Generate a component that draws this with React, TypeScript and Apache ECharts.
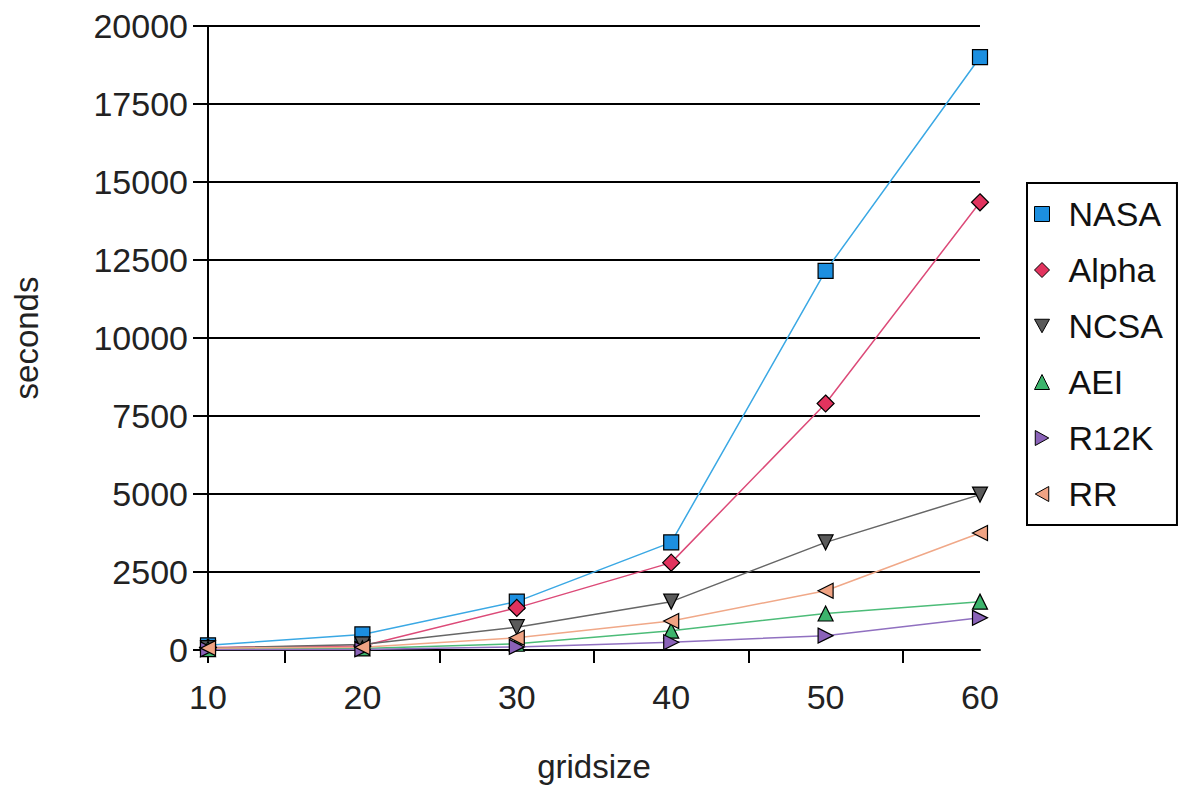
import React, { useEffect, useRef } from "react";
import * as echarts from "echarts";

// Grid sizes on the x axis
const gridsizes = [10, 20, 30, 40, 50, 60];

// Run time in seconds per machine
const nasa = [150, 500, 1550, 3450, 12150, 19000];
const alpha = [80, 130, 1350, 2800, 7900, 14350];
const ncsa = [60, 180, 730, 1550, 3450, 4980];
const aei = [30, 50, 200, 620, 1170, 1550];
const r12k = [20, 20, 100, 250, 460, 1030];
const rr = [60, 90, 390, 930, 1900, 3750];

const yTicks = { min: 0, max: 20000, step: 2500 };

const FONT = "'Liberation Sans', Arial, sans-serif";

const SYM_DOWN = "path://M0,0 L10,0 L5,9 Z";
const SYM_RIGHT = "path://M0,0 L9,5 L0,10 Z";
const SYM_LEFT = "path://M9,0 L0,5 L9,10 Z";

const machines = [
  { name: "NASA", values: nasa, fill: "#1c8fe0", line: "#3aa8e4", symbol: "rect", size: 15 },
  { name: "Alpha", values: alpha, fill: "#e2335e", line: "#dc4a78", symbol: "diamond", size: 17 },
  { name: "NCSA", values: ncsa, fill: "#5a5a5a", line: "#666666", symbol: SYM_DOWN, size: 15 },
  { name: "AEI", values: aei, fill: "#3cb46c", line: "#4cbc78", symbol: "triangle", size: 15 },
  { name: "R12K", values: r12k, fill: "#8a62b8", line: "#9070c0", symbol: SYM_RIGHT, size: 15 },
  { name: "RR", values: rr, fill: "#f0a383", line: "#f0a888", symbol: SYM_LEFT, size: 15 },
];

export default function App() {
  const ref = useRef<HTMLDivElement>(null);

  useEffect(() => {
    if (!ref.current) return;
    const chart = echarts.init(ref.current, null, { renderer: "svg" });

    const series = machines.map((m) => ({
      name: m.name,
      type: "line",
      data: gridsizes.map((g, i) => [g, m.values[i]]),
      symbol: m.symbol,
      symbolSize: m.size,
      showSymbol: true,
      lineStyle: { color: m.line, width: 1.5 },
      itemStyle: { color: m.fill, borderColor: "#000", borderWidth: 1.2 },
      emphasis: { disabled: true },
    }));

    chart.setOption({
      animation: false,
      backgroundColor: "#ffffff",
      textStyle: { fontFamily: FONT },
      grid: { left: 208, right: 201, top: 26, bottom: 137, containLabel: false },
      legend: {
        orient: "vertical",
        left: 1027,
        top: 183,
        padding: [14, 14, 14, 7],
        itemGap: 22,
        itemWidth: 15,
        itemHeight: 15,
        borderColor: "#000",
        borderWidth: 2,
        textStyle: { fontFamily: FONT, fontSize: 34, color: "#111", padding: [0, 0, 0, 14] },
        data: machines.map((m) => ({ name: m.name, icon: m.symbol })),
        itemStyle: { borderColor: "#000", borderWidth: 1 },
      },
      xAxis: {
        type: "value",
        min: 10,
        max: 60,
        interval: 10,
        name: "gridsize",
        nameLocation: "middle",
        nameGap: 100,
        nameTextStyle: { fontFamily: FONT, fontSize: 33, color: "#222" },
        axisLine: { show: true, lineStyle: { color: "#000", width: 2 } },
        axisTick: {
          show: true,
          inside: false,
          length: 13,
          customValues: [10, 15, 25, 35, 45, 55],
          lineStyle: { color: "#000", width: 2 },
        },
        axisLabel: {
          customValues: gridsizes,
          margin: 30,
          fontFamily: FONT,
          fontSize: 34,
          color: "#222",
        },
        splitLine: { show: false },
      },
      yAxis: {
        type: "value",
        min: yTicks.min,
        max: yTicks.max,
        interval: yTicks.step,
        name: "seconds",
        nameLocation: "middle",
        nameGap: 165,
        nameTextStyle: { fontFamily: FONT, fontSize: 33, color: "#222" },
        axisLine: { show: true, lineStyle: { color: "#000", width: 2 } },
        axisTick: { show: true, inside: false, length: 15, lineStyle: { color: "#000", width: 2 } },
        axisLabel: {
          margin: 20,
          fontFamily: FONT,
          fontSize: 34,
          color: "#222",
          formatter: (v: number) => String(v),
        },
        splitLine: { show: true, lineStyle: { color: "#000", width: 2 } },
      },
      series,
    });

    return () => chart.dispose();
  }, []);

  return (
    <div
      ref={ref}
      style={{ width: 1181, height: 788, position: "absolute", left: 0, top: 0, background: "#fff" }}
    />
  );
}
